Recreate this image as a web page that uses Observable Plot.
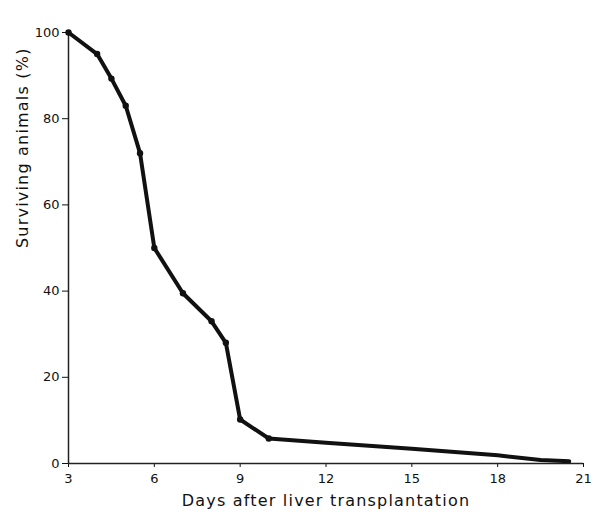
<!DOCTYPE html>
<html><head><meta charset="utf-8">
<script src="https://cdn.jsdelivr.net/npm/d3@7"></script>
<script src="https://cdn.jsdelivr.net/npm/@observablehq/plot@0.6"></script>
<style>body{margin:0;background:#fff;} svg{font-family:"DejaVu Sans",sans-serif;}</style>
</head><body><div id="chart"></div>
<script>
const days = [3, 4, 4.5, 5, 5.5, 6, 7, 8, 8.5, 9, 10, 12, 15, 18, 19.5, 20.5];
const surviving = [100, 95, 89.3, 83, 72, 50, 39.5, 33, 28, 10.2, 5.8, 4.8, 3.4, 1.9, 0.8, 0.5];
const xTicks = [3, 6, 9, 12, 15, 18, 21];
const yTicks = [0, 20, 40, 60, 80, 100];
const data = days.map((d, i) => ({day: d, pct: surviving[i]}));
const markers = data.slice(0, 11);

const chart = Plot.plot({
  width: 600, height: 520,
  marginLeft: 68, marginRight: 17, marginTop: 32, marginBottom: 57,
  style: {fontSize: "13px", fontFamily: "DejaVu Sans, sans-serif", color: "#111", background: "#fff"},
  x: {domain: [3, 21], ticks: xTicks, label: null},
  y: {domain: [0, 100], ticks: yTicks, label: null},
  marks: [
    Plot.axisX({ticks: xTicks, tickSize: 4, tickPadding: 6, fontSize: 13}),
    Plot.axisY({ticks: yTicks, tickSize: 6, tickPadding: 3, fontSize: 13}),
    Plot.ruleY([0], {stroke: "#222", strokeWidth: 1.5}),
    Plot.ruleX([3], {stroke: "#222", strokeWidth: 1.5}),
    Plot.line(data, {x: "day", y: "pct", stroke: "#111", strokeWidth: 4, strokeLinejoin: "round", strokeLinecap: "round"}),
    Plot.dot(markers, {x: "day", y: "pct", r: 3.2, fill: "#111"}),
    Plot.text(["Days after liver transplantation"], {frameAnchor: "bottom", dx: 0, dy: 42, fontSize: 16, fill: "#111", text: d => d}),
    Plot.text(["Surviving animals (%)"], {frameAnchor: "left", dx: -46, dy: 0, rotate: -90, fontSize: 16, fill: "#111", text: d => d})
  ]
});
chart.querySelectorAll("text").forEach(t => { if (t.textContent.startsWith("Days")) t.setAttribute("letter-spacing", "1.2"); if (t.textContent.startsWith("Surviving")) t.setAttribute("letter-spacing", "1.2"); });
document.getElementById("chart").append(chart);
</script></body></html>
